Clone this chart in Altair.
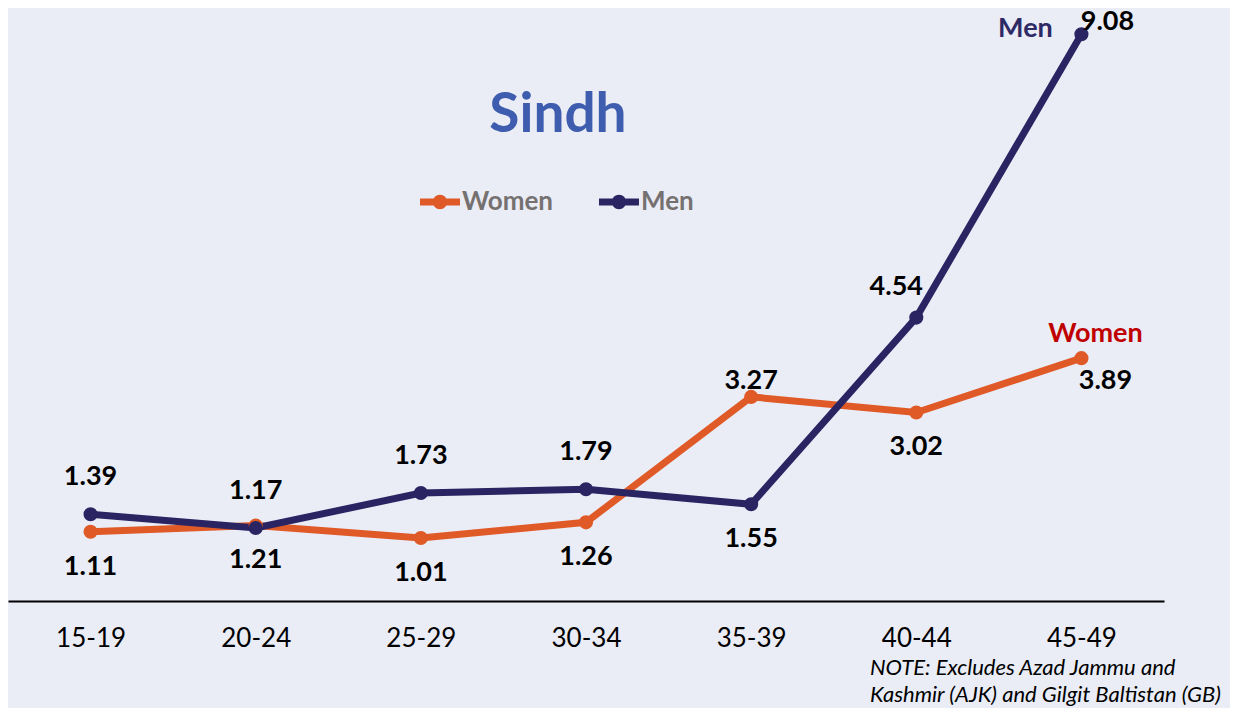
import altair as alt
import pandas as pd

ages = ["15-19", "20-24", "25-29", "30-34", "35-39", "40-44", "45-49"]
women = [1.11, 1.21, 1.01, 1.26, 3.27, 3.02, 3.89]
men = [1.39, 1.17, 1.73, 1.79, 1.55, 4.54, 9.08]
series_names = ["Women", "Men"]
title_text = "Sindh"
note_lines = ["NOTE: Excludes Azad Jammu and", "Kashmir (AJK) and Gilgit Baltistan (GB)"]

rows = []
for i, a in enumerate(ages):
    for s, vals, other in (("Women", women, men), ("Men", men, women)):
        v = vals[i]
        o = other[i]
        top = (v > o + 0.1) or (abs(v - o) <= 0.1 and s == "Men")
        last = i == len(ages) - 1
        nxt = v if last else vals[i + 1]
        if last:
            place = "end_above" if top else "end_below"
        elif top and nxt - v > 2:
            place = "upleft"
        elif top:
            place = "above_w" if s == "Women" else "above"
        else:
            place = "below"
        rows.append(dict(age=a, series=s, value=v, place=place,
                         label=f"{v:.2f}", last=last))
df = pd.DataFrame(rows)

FONT = "Lato"
WOMEN_C = "#E05A28"
MEN_C = "#2B2462"
color_scale = alt.Scale(domain=series_names, range=[WOMEN_C, MEN_C])

x = alt.X("age:N", sort=ages, scale=alt.Scale(type="point", padding=0.5),
          axis=alt.Axis(title=None, labelFontSize=26, labelColor="black", labelFont=FONT,
                        domainColor="black", domainWidth=2, ticks=False, labelPadding=24,
                        grid=False, labelAngle=0))
y = alt.Y("value:Q", scale=alt.Scale(domain=[0, 9.5], nice=False, zero=True), axis=None)

base = alt.Chart(df).encode(x=x, y=y)

lines = base.mark_line(strokeWidth=7).encode(
    stroke=alt.condition(alt.datum.series == "Men", alt.value(MEN_C), alt.value(WOMEN_C)),
    detail="series:N",
)

SYMBOL = ("M-1,-0.17L1,-0.17L1,0.17L-1,0.17Z "
          "M-0.36,0A0.36,0.36,0,1,1,0.36,0A0.36,0.36,0,1,1,-0.36,0Z")

points = base.mark_point(filled=True, size=200, opacity=1).encode(
    fill=alt.Fill("series:N", scale=color_scale,
                  legend=alt.Legend(title=None, orient="none", legendX=412, legendY=174,
                                    direction="horizontal", symbolType=SYMBOL,
                                    symbolSize=1600, symbolStrokeWidth=0,
                                    labelFontSize=26, labelFontWeight="bold",
                                    labelColor="#767171", labelFont=FONT,
                                    columnPadding=45, labelOffset=2, padding=0)),
)


def lab(place, dx, dy):
    return base.transform_filter(alt.datum.place == place).mark_text(
        dx=dx, dy=dy, fontSize=27, fontWeight="bold", font=FONT, color="black"
    ).encode(text="label:N")


labels = [
    lab("above", 0, -37),
    lab("above_w", 0, -16),
    lab("below", 0, 35),
    lab("upleft", -20, -31),
    lab("end_above", 26, -12),
    lab("end_below", 24, 23),
]

men_end = base.transform_filter(
    (alt.datum.last == True) & (alt.datum.series == "Men")
).mark_text(dx=-56, dy=-5, fontSize=27, fontWeight="bold", font=FONT,
            color="#2E2A66").encode(text="series:N")
women_end = base.transform_filter(
    (alt.datum.last == True) & (alt.datum.series == "Women")
).mark_text(dx=14, dy=-24, fontSize=27, fontWeight="bold", font=FONT,
            color="#C00000").encode(text="series:N")

title = alt.Chart(pd.DataFrame({"t": [title_text]})).mark_text(
    fontSize=55, fontWeight="bold", font=FONT, color="#3F5DAE", baseline="middle"
).encode(text="t:N", x=alt.value(550), y=alt.value(107))

note = alt.Chart(pd.DataFrame({"t": [0]})).mark_text(
    fontSize=22, fontStyle="italic", font=FONT, color="black", align="left",
    baseline="top", lineHeight=27
).encode(text=alt.value(note_lines), x=alt.value(862), y=alt.value(650))

chart = alt.layer(lines, points, *labels, men_end, women_end, title, note).properties(
    width=1156, height=593,
    padding={"left": 0, "top": 0, "right": 8, "bottom": 3},
).configure(background="#EAEDF6").configure_view(stroke=None)

chart.save("out.html", embed_options={"renderer": "svg", "actions": False})
